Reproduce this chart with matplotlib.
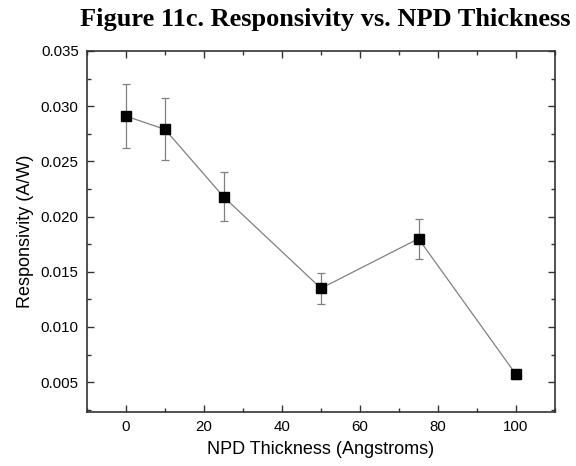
import matplotlib
matplotlib.use("Agg")
import matplotlib.pyplot as plt
from matplotlib.ticker import MultipleLocator

# NPD thickness (Angstroms) vs responsivity (A/W)
thickness = [0, 10, 25, 50, 75, 100]
responsivity = [0.0291, 0.0279, 0.0218, 0.0135, 0.0180, 0.0057]
resp_err = [0.0029, 0.0028, 0.0022, 0.0014, 0.0018, 0.0004]

plt.rcParams['font.family'] = ['Liberation Sans', 'DejaVu Sans']

fig = plt.figure(figsize=(5.76, 4.66), dpi=100)
ax = fig.add_axes([87 / 576, 1 - 412 / 466, (555 - 87) / 576, (412 - 51) / 466])

ax.errorbar(thickness, responsivity, yerr=resp_err, color='#808080', lw=0.9,
            ecolor='#808080', elinewidth=0.9, capsize=3, capthick=0.9,
            marker='s', markersize=6.8, markerfacecolor='black',
            markeredgecolor='black', zorder=3)

ax.set_xlim(-10, 110)
ax.set_ylim(0.0023, 0.035)
ax.xaxis.set_major_locator(MultipleLocator(20))
ax.xaxis.set_minor_locator(MultipleLocator(10))
ax.yaxis.set_major_locator(MultipleLocator(0.005))
ax.yaxis.set_minor_locator(MultipleLocator(0.0025))
ax.yaxis.set_major_formatter(plt.FuncFormatter(lambda v, p: f"{v:.3f}"))

ax.tick_params(which='both', direction='in', top=True, right=True,
               labelsize=10.8, width=1.0, color='#333333')
ax.tick_params(which='major', length=5, pad=6)
ax.tick_params(which='minor', length=3)
for s in ax.spines.values():
    s.set_linewidth(1.2)
    s.set_color('#333333')

ax.set_xlabel('NPD Thickness (Angstroms)', fontsize=13, labelpad=5)
ax.set_ylabel('Responsivity (A/W)', fontsize=13, labelpad=5)

fig.text(0.565, 1 - 26 / 466, 'Figure 11c. Responsivity vs. NPD Thickness',
         ha='center', va='baseline', fontsize=19, fontweight='bold',
         family=['Liberation Serif', 'DejaVu Serif'])

fig.savefig('out.png', dpi=100)
